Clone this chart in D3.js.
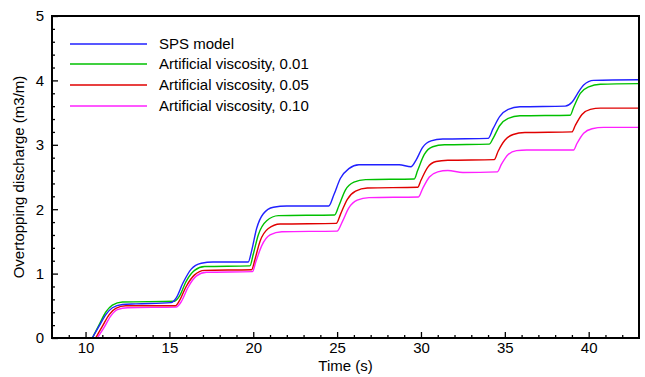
<!DOCTYPE html>
<html><head><meta charset="utf-8">
<script src="https://cdn.jsdelivr.net/npm/d3@7/dist/d3.min.js"></script>
<style>body{margin:0;background:#fff}svg{display:block}text{font-family:"Liberation Sans",Arial,sans-serif;fill:#000}</style>
</head><body><svg id="c" width="645" height="377"></svg>
<script>
const xTicks = [10, 15, 20, 25, 30, 35, 40];
const yTicks = [0, 1, 2, 3, 4, 5];
const seriesNames = ["SPS model", "Artificial viscosity, 0.01", "Artificial viscosity, 0.05", "Artificial viscosity, 0.10"];
const seriesColors = ["#2020ff", "#00c000", "#e00000", "#ff20ff"];

const spsModel = [[10.4,0],[10.8,0.18],[11.2,0.36],[11.6,0.47],[12.2,0.52],[13,0.53],[15.1,0.55],[15.4,0.62],[15.8,0.85],[16.3,1.07],[16.9,1.16],[17.6,1.18],[19.7,1.18],[19.9,1.35],[20.2,1.7],[20.6,1.93],[21.2,2.03],[22,2.05],[24.5,2.05],[24.8,2.22],[25.2,2.48],[25.7,2.63],[26.3,2.69],[28.7,2.69],[29.4,2.66],[29.7,2.76],[30.1,2.96],[30.6,3.06],[31.3,3.09],[34.0,3.1],[34.3,3.25],[34.7,3.44],[35.2,3.55],[35.9,3.59],[38.6,3.6],[39.0,3.66],[39.3,3.78],[39.7,3.93],[40.3,4.0],[43,4.01]];
const visc001 = [[10.4,0],[10.8,0.2],[11.2,0.4],[11.6,0.51],[12.2,0.56],[15.3,0.57],[15.6,0.65],[16.0,0.88],[16.5,1.05],[17.1,1.11],[19.8,1.12],[20.0,1.3],[20.3,1.6],[20.8,1.82],[21.5,1.9],[24.85,1.91],[25.1,2.05],[25.5,2.3],[26.0,2.42],[26.7,2.46],[29.6,2.47],[29.8,2.6],[30.2,2.85],[30.7,2.97],[31.4,3.0],[34.07,3.01],[34.3,3.1],[34.7,3.3],[35.2,3.41],[35.9,3.45],[38.9,3.46],[39.1,3.58],[39.5,3.8],[40.0,3.9],[40.7,3.94],[43,3.95]];
const visc005 = [[10.6,0],[11.0,0.18],[11.4,0.36],[11.8,0.46],[12.4,0.5],[15.35,0.5],[15.6,0.58],[16.0,0.8],[16.5,0.98],[17.1,1.05],[19.9,1.06],[20.1,1.22],[20.4,1.5],[20.9,1.7],[21.6,1.77],[24.95,1.78],[25.2,1.92],[25.6,2.15],[26.1,2.28],[26.8,2.33],[29.8,2.34],[30.0,2.45],[30.4,2.65],[30.9,2.74],[31.6,2.76],[34.37,2.77],[34.6,2.9],[35.0,3.07],[35.5,3.16],[36.2,3.19],[39.0,3.2],[39.2,3.3],[39.6,3.47],[40.1,3.55],[40.7,3.57],[43,3.57]];
const visc010 = [[10.7,0],[11.1,0.16],[11.5,0.34],[11.9,0.44],[12.5,0.47],[15.4,0.48],[15.7,0.56],[16.1,0.78],[16.6,0.96],[17.2,1.02],[19.95,1.03],[20.15,1.18],[20.5,1.43],[21.0,1.6],[21.7,1.65],[25.0,1.66],[25.3,1.8],[25.7,2.02],[26.2,2.14],[26.9,2.18],[29.85,2.19],[30.1,2.32],[30.5,2.5],[31.0,2.58],[31.6,2.6],[32.5,2.57],[34.55,2.58],[34.8,2.7],[35.2,2.85],[35.7,2.91],[36.3,2.92],[39.1,2.92],[39.3,3.02],[39.7,3.18],[40.2,3.25],[40.9,3.27],[43,3.27]];
const allSeries = [spsModel, visc001, visc005, visc010];

const svg = d3.select("#c");
const L = 52, R = 639, T = 16, B = 338;
const x = d3.scaleLinear().domain([8, 43]).range([L, R]);
const y = d3.scaleLinear().domain([0, 5]).range([B, T]);

svg.append("clipPath").attr("id","clip").append("rect").attr("x",L).attr("y",T).attr("width",R-L).attr("height",B-T);

const line = d3.line().x(d=>x(d[0])).y(d=>y(d[1])).curve(d3.curveMonotoneX);
const g = svg.append("g").attr("clip-path","url(#clip)");
allSeries.slice().reverse().forEach((s,i)=>{
  const idx = allSeries.length-1-i;
  g.append("path").datum(s).attr("d",line).attr("fill","none")
   .attr("stroke",seriesColors[idx]).attr("stroke-width",1.4);
});

// axes with inward ticks
const xAxis = d3.axisBottom(x).tickValues(xTicks).tickSize(-6).tickPadding(4).tickFormat(d3.format("d"));
const xMinor = d3.axisBottom(x).tickValues(d3.range(9,43,1).filter(v=>v%5!==0)).tickSize(-3).tickFormat("");
const yAxis = d3.axisLeft(y).tickValues(yTicks).tickSize(-6).tickPadding(8).tickFormat(d3.format("d"));
const yMinor = d3.axisLeft(y).tickValues(d3.range(0.2,5,0.2).filter(v=>Math.abs(v-Math.round(v))>0.01)).tickSize(-3).tickFormat("");

function style(sel){
  sel.select(".domain").remove();
  sel.selectAll("line").attr("stroke","#000").attr("stroke-width",1.3);
  sel.selectAll("text").style("font-size","15px").attr("fill","#000");
}
svg.append("g").attr("transform",`translate(0,${B})`).call(xAxis).call(style);
svg.append("g").attr("transform",`translate(0,${B})`).call(xMinor).call(style);
svg.append("g").attr("transform",`translate(${L},0)`).call(yAxis).call(style);
svg.append("g").attr("transform",`translate(${L},0)`).call(yMinor).call(style);

// frame
svg.append("rect").attr("x",L).attr("y",T).attr("width",R-L).attr("height",B-T)
  .attr("fill","none").attr("stroke","#000").attr("stroke-width",2);

// titles
svg.append("text").attr("x",(L+R)/2).attr("y",371).attr("text-anchor","middle").style("font-size","15px").text("Time (s)");
svg.append("text").attr("transform",`translate(24,${(T+B)/2}) rotate(-90)`).attr("text-anchor","middle").style("font-size","15px").text("Overtopping discharge (m3/m)");

// legend
const ly = [44, 64, 85, 106];
seriesNames.forEach((n,i)=>{
  svg.append("line").attr("x1",70).attr("x2",147).attr("y1",ly[i]).attr("y2",ly[i]).attr("stroke",seriesColors[i]).attr("stroke-width",1.5);
  svg.append("text").attr("x",159).attr("y",ly[i]+5).style("font-size","15px").text(n);
});
</script></body></html>
